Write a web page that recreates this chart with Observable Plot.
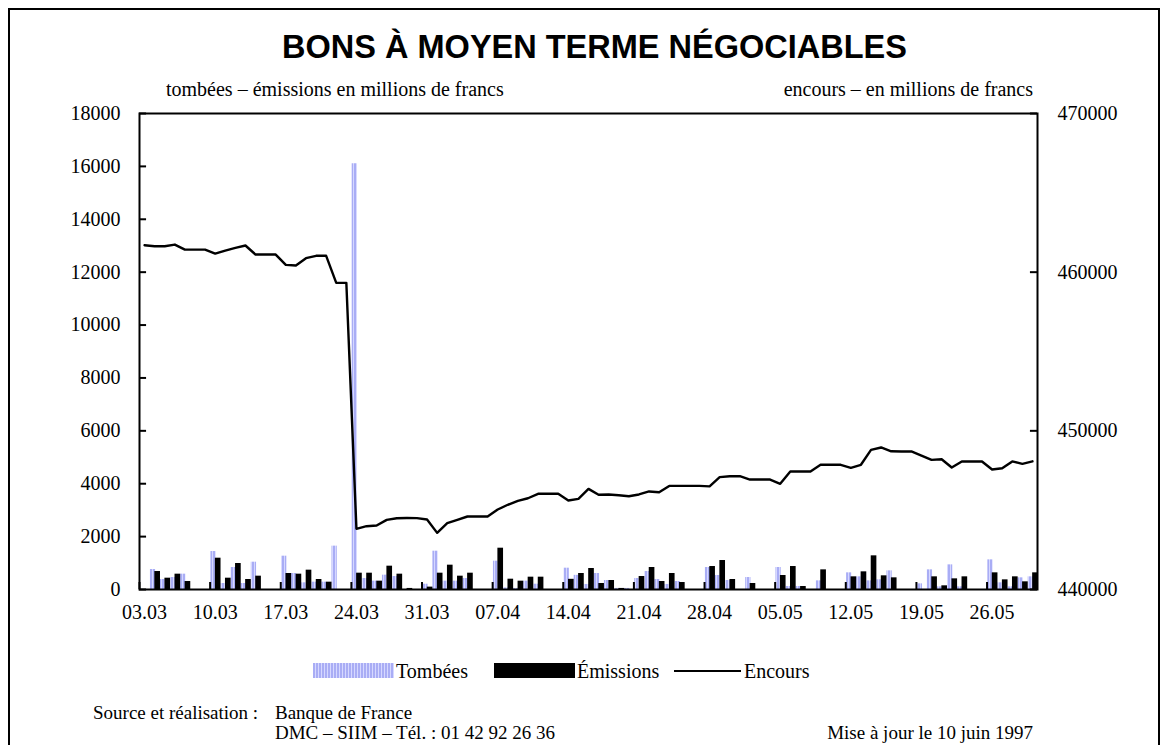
<!DOCTYPE html>
<html>
<head>
<meta charset="utf-8">
<script src="https://cdn.jsdelivr.net/npm/d3@7"></script>
<script src="https://cdn.jsdelivr.net/npm/@observablehq/plot@0.6"></script>
<style>
  html, body { margin: 0; padding: 0; background: white; }
  #page { position: relative; width: 1169px; height: 745px; overflow: hidden; background: white; font-family: "Liberation Serif", "Times New Roman", serif; color: black; }
  .abs { position: absolute; line-height: 1; white-space: nowrap; }
  .serif { font-family: "Liberation Serif", "Times New Roman", serif; font-size: 20px; }
  .foot { font-family: "Liberation Serif", "Times New Roman", serif; font-size: 19px; }
</style>
</head>
<body>
<div id="page">
  <div class="abs" style="left:8px; top:8px; width:1152px; height:800px; border:2px solid black; box-sizing:border-box;"></div>
  <div class="abs" style="left:10px; width:1169px; top:31px; text-align:center; font-family:'Liberation Sans', Arial, sans-serif; font-weight:bold; font-size:32.5px;">BONS À MOYEN TERME NÉGOCIABLES</div>
  <div class="abs serif" style="left:166px; top:79px;">tombées – émissions en millions de francs</div>
  <div class="abs serif" style="right:136px; top:79px;">encours – en millions de francs</div>
  <div id="chart" class="abs" style="left:0; top:100px;"></div>
  <!-- legend -->
  <div class="abs" style="left:313px; top:663px; width:81px; height:15px; background:repeating-linear-gradient(90deg, #a9adf5 0px, #a9adf5 2px, #d6d8ff 2px, #d6d8ff 3px);"></div>
  <div class="abs serif" style="left:396px; top:661px;">Tombées</div>
  <div class="abs" style="left:494px; top:663px; width:81px; height:15px; background:black;"></div>
  <div class="abs serif" style="left:577px; top:661px;">Émissions</div>
  <div class="abs" style="left:674px; top:670px; width:67px; height:2px; background:black;"></div>
  <div class="abs serif" style="left:744px; top:661px;">Encours</div>
  <!-- footer -->
  <div class="abs foot" style="left:93px; top:703px;">Source et réalisation :</div>
  <div class="abs foot" style="left:275px; top:703px;">Banque de France</div>
  <div class="abs foot" style="left:275px; top:723px;">DMC – SIIM – Tél. : 01 42 92 26 36</div>
  <div class="abs foot" style="right:136px; top:723px;">Mise à jour le 10 juin 1997</div>
</div>
<script>
// ---- data ----
const xTickLabels = ["03.03","10.03","17.03","24.03","31.03","07.04","14.04","21.04","28.04","05.05","12.05","19.05","26.05"];
const leftTicks = [0,2000,4000,6000,8000,10000,12000,14000,16000,18000];
const rightTicks = [440000,450000,460000,470000];

const barDates = ["04.03","05.03","06.03","07.03","10.03","11.03","12.03","13.03","14.03",
  "17.03","18.03","19.03","20.03","21.03","22.03","24.03","25.03","26.03","27.03","28.03","29.03",
  "31.03","01.04","02.04","03.04","04.04","07.04","08.04","09.04","10.04","11.04",
  "14.04","15.04","16.04","17.04","18.04","19.04","20.04","21.04","22.04","23.04","24.04","25.04",
  "28.04","29.04","30.04","02.05","05.05","06.05","07.05","09.05",
  "12.05","13.05","14.05","15.05","16.05","19.05","20.05","21.05","22.05","23.05",
  "26.05","27.05","28.05","29.05","30.05"];
const tombees = [756,378,454,580,1436,227,832,227,1033,
  1260,605,252,277,277,1640,16100,416,315,542,491,0,
  200,1449,315,315,416,1071,60,40,315,200,
  806,535,190,605,340,40,40,416,680,378,190,302,
  832,529,340,453,832,113,113,327,
  630,479,327,365,706,214,743,100,932,100,
  1121,252,100,441,479];
const emissions = [680,428,580,302,1184,428,983,378,504,
  605,580,731,378,277,0,617,617,315,882,580,40,
  90,617,920,504,617,1562,390,315,466,466,
  385,605,794,227,340,40,0,491,832,302,605,264,
  869,1096,378,227,529,869,113,743,
  479,668,1273,517,441,0,479,139,403,479,
  630,365,479,290,630];

// encours, one value per calendar day from 03.03 to 30.05
const encoursStart = "03.03";
const encours = [461695,461630,461630,461740,461420,461420,461420,
  461170,461360,461530,461680,461110,461110,461110,
  460460,460420,460880,461030,461030,459325,459325,
  443825,443990,444030,444390,444490,444510,444500,
  444410,443570,444180,444390,444600,444600,444600,
  445040,445340,445590,445750,446030,446030,446030,
  445610,445710,446340,445970,445990,445940,445880,
  445990,446180,446130,446530,446530,446530,446530,
  446500,447080,447140,447140,446930,446930,446930,
  446660,447440,447440,447440,447860,447860,447860,
  447670,447860,448800,448950,448710,448700,448700,
  448440,448170,448210,447690,448070,448070,448070,
  447560,447640,448070,447920,448080];

// ---- helpers ----
const origin = Date.UTC(1997, 2, 3);
function dayIndex(s) {
  const [dd, mm] = s.split(".").map(Number);
  return Math.round((Date.UTC(1997, mm - 1, dd) - origin) / 864e5);
}
const toLeft = v => (v - 440000) * 18000 / 30000;
const fromLeft = d => Math.round(440000 + d * 30000 / 18000);

const bars = barDates.map((s, i) => ({day: dayIndex(s), t: tombees[i], e: emissions[i]}));
const enc = encours.map((v, i) => ({day: dayIndex(encoursStart) + i, v}));
const tickDays = xTickLabels.map(dayIndex);

const svg = Plot.plot({
  width: 1169,
  height: 535,
  marginLeft: 139,
  marginRight: 132,
  marginTop: 13,
  marginBottom: 46,
  x: {domain: [0, 89], axis: null},
  y: {domain: [0, 18000], axis: null},
  style: {fontFamily: "'Liberation Serif', 'Times New Roman', serif", fontSize: "20px", color: "black", background: "transparent", overflow: "visible"},
  marks: [
    Plot.rect(bars, {x1: d => d.day + 0.08, x2: d => d.day + 0.6, y1: 0, y2: "t", fill: "url(#tombeesPattern)"}),
    Plot.rect(bars, {x1: d => d.day + 0.52, x2: d => d.day + 1.08, y1: 0, y2: "e", fill: "black"}),
    Plot.line(enc, {x: d => d.day + 0.5, y: d => toLeft(d.v), stroke: "black", strokeWidth: 2.4}),
    Plot.ruleX(tickDays, {x: d => d, y1: 0, y2: 265, stroke: "black", strokeWidth: 2}),
    Plot.ruleY(leftTicks, {y: d => d, x1: 0, x2: 0.7, stroke: "black", strokeWidth: 2}),
    Plot.ruleY(rightTicks.map(toLeft), {y: d => d, x1: 88.3, x2: 89, stroke: "black", strokeWidth: 2}),
    Plot.axisY({ticks: leftTicks, tickSize: 0, tickPadding: 19, tickFormat: d => String(d), label: null}),
    Plot.axisY({anchor: "right", ticks: rightTicks.map(toLeft), tickSize: 0, tickPadding: 20, tickFormat: d => String(fromLeft(d)), label: null}),
    Plot.text(xTickLabels, {x: d => dayIndex(d) + 0.5, frameAnchor: "bottom", dy: 29, text: d => d, fontSize: 20}),
    Plot.frame({stroke: "black", strokeWidth: 2})
  ]
});

// striped pattern for "Tombées"
const ns = "http://www.w3.org/2000/svg";
const defs = document.createElementNS(ns, "defs");
const pat = document.createElementNS(ns, "pattern");
pat.setAttribute("id", "tombeesPattern");
pat.setAttribute("patternUnits", "userSpaceOnUse");
pat.setAttribute("width", "3");
pat.setAttribute("height", "10");
const r1 = document.createElementNS(ns, "rect");
r1.setAttribute("width", "3"); r1.setAttribute("height", "10"); r1.setAttribute("fill", "#a9adf5");
const r2 = document.createElementNS(ns, "rect");
r2.setAttribute("x", "2"); r2.setAttribute("width", "1"); r2.setAttribute("height", "10"); r2.setAttribute("fill", "#d6d8ff");
pat.appendChild(r1); pat.appendChild(r2); defs.appendChild(pat);
svg.insertBefore(defs, svg.firstChild);

document.getElementById("chart").appendChild(svg);
</script>
</body>
</html>
